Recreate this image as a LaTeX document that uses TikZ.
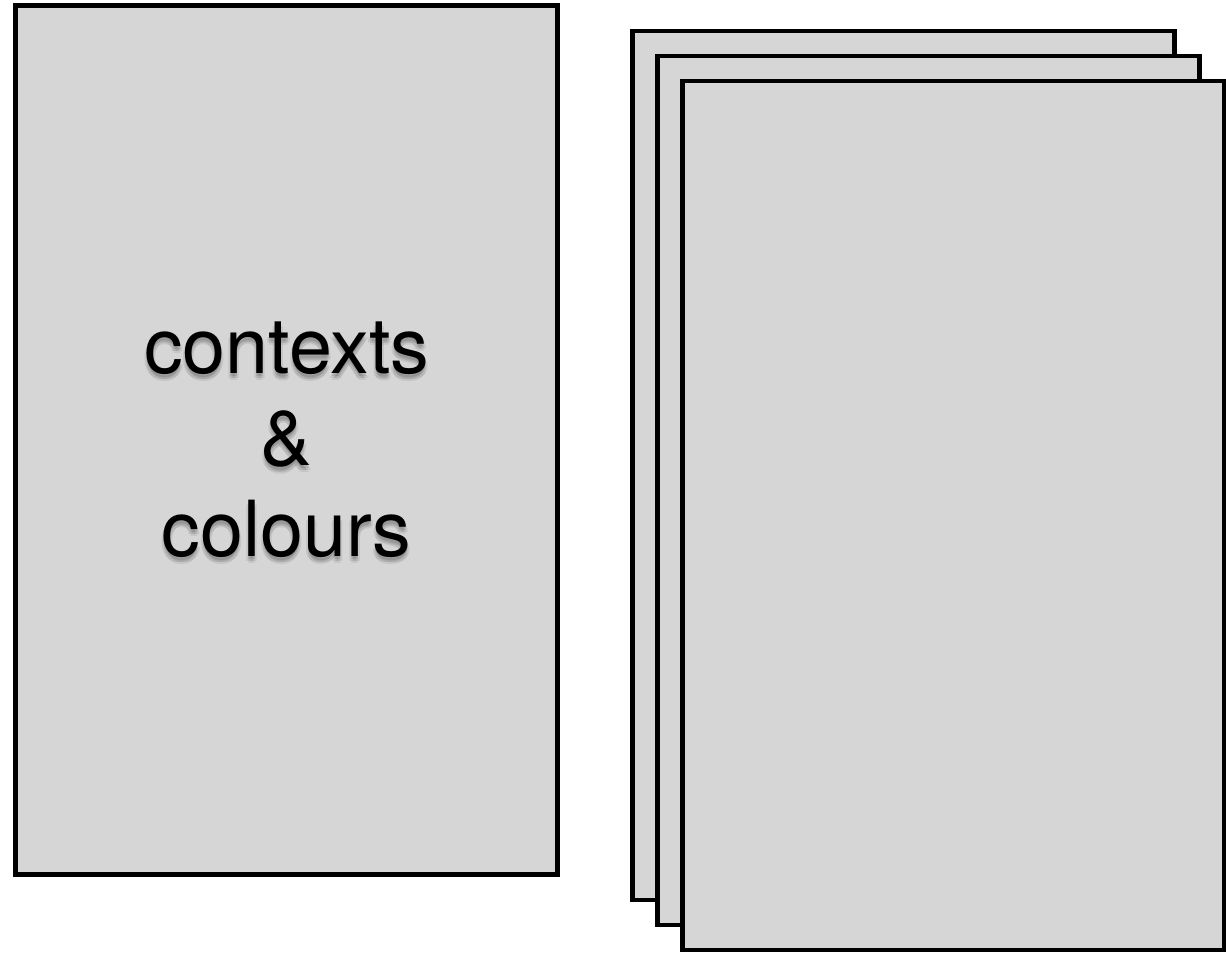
\documentclass[tikz,border=0pt]{standalone}
\usepackage{fontspec}
\newfontfamily\heros{TeX Gyre Heros}
\usepackage{tikz}
\usetikzlibrary{positioning,calc}
\definecolor{sheetgray}{RGB}{214,214,214}

\begin{document}
\begin{tikzpicture}[x=0.025cm, y=-0.025cm,
    sheet/.style={draw=black, fill=sheetgray, line width=3.5pt, minimum width=13.55cm, minimum height=21.72cm, inner sep=0pt},
    bigtext/.style={align=center, font=\heros\fontsize{55}{65.1}\selectfont}]
    \useasboundingbox (0,0) rectangle (1226,956);
    % left sheet with label (soft shadow underneath)
    \node[sheet] (ctx) at (286.75,439.75) {};
    \foreach \dx/\dy/\op in {0/3/0.10, 2/5/0.08, -2/5/0.08, 0/7/0.07} {
        \node[bigtext, text=black, opacity=\op] (shade) at ($(ctx.center)+(\dx,\dy)$) {contexts\\\&\\colours};
    }
    \node[bigtext] (label) at (ctx.center) {contexts\\\&\\colours};
    % stack of sheets on the right
    \node[sheet] (back) at (903.5,465.5) {};
    \node[sheet] (middle) at (928.5,490.5) {};
    \node[sheet] (front) at (953.5,515.5) {};
\end{tikzpicture}
\end{document}
